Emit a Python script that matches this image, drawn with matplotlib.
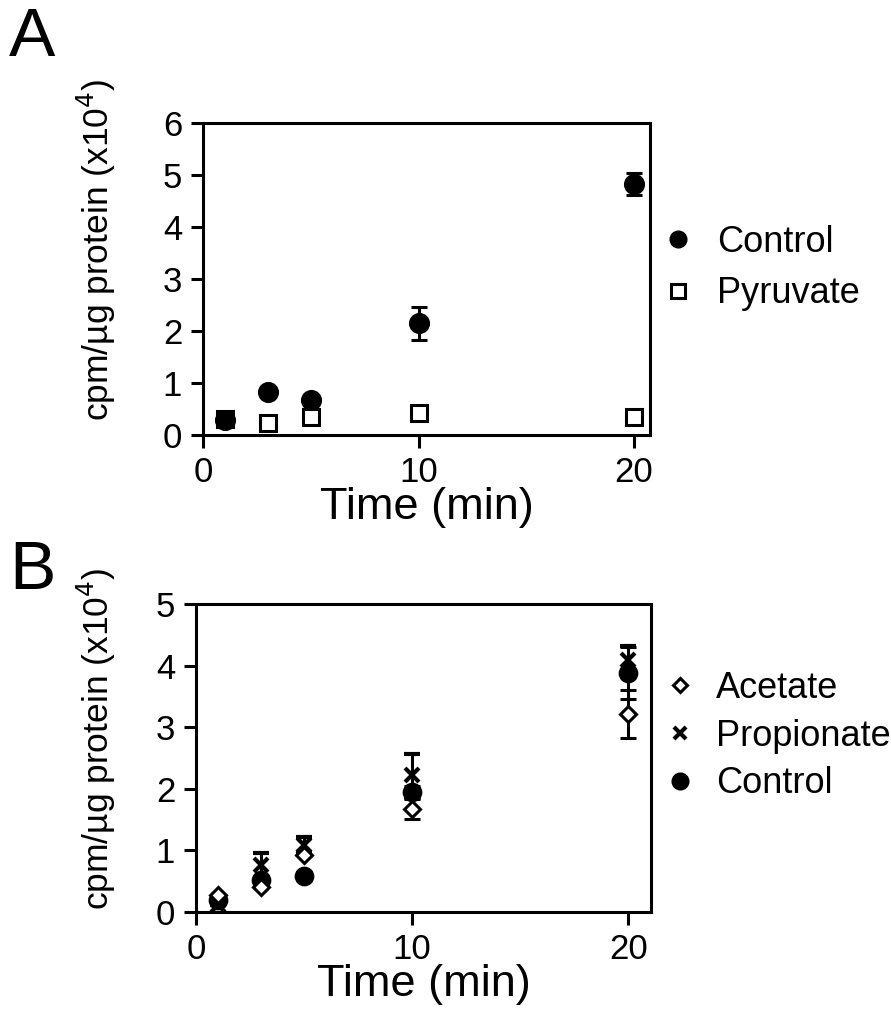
import numpy as np
import matplotlib
matplotlib.use('Agg')
import matplotlib.pyplot as plt
from matplotlib.lines import Line2D

plt.rcParams['font.family'] = ['Liberation Sans', 'DejaVu Sans']

# panel A
timeA = [1, 3, 5, 10, 20]
controlA = [0.29, 0.83, 0.67, 2.15, 4.83]
controlA_err = [0.0, 0.0, 0.0, 0.32, 0.22]
pyruvateA = [0.31, 0.23, 0.35, 0.42, 0.35]
pyruvateA_err = [0.0, 0.0, 0.0, 0.0, 0.0]

# panel B
timeB = [1, 3, 5, 10, 20]
controlB = [0.20, 0.52, 0.58, 1.95, 3.88]
controlB_err = [0.0, 0.0, 0.0, 0.10, 0.42]
propionateB = [0.11, 0.76, 1.09, 2.22, 4.09]
propionateB_err = [0.0, 0.20, 0.13, 0.35, 0.23]
acetateB = [0.28, 0.41, 0.93, 1.67, 3.21]
acetateB_err = [0.0, 0.0, 0.0, 0.16, 0.39]

LW = 2.2
TICK = 25
YLAB = 'cpm/\u00b5g protein (x10$^{4}$)'


def styleAxes(ax, xmax, ymax, yticks):
    ax.set_xlim(0, xmax)
    ax.set_ylim(0, ymax)
    ax.set_xticks([0, 10, 20])
    ax.set_yticks(yticks)
    for s in ax.spines.values():
        s.set_linewidth(LW)
    ax.tick_params(width=LW, length=9, labelsize=TICK, pad=6)
    ax.set_xlabel('Time (min)', fontsize=32.5, labelpad=-1)


def drawSeries(ax, x, y, err, mew=2.2, **kw):
    ax.errorbar(x, y, yerr=err, ls='none', color='black', elinewidth=LW,
                capsize=6, capthick=LW, mec='black', mew=mew, clip_on=False, **kw)


def main():
    fig = plt.figure(figsize=(8.91, 10.26), dpi=100)

    axA = fig.add_axes([0.2278, 0.576, 0.5017, 0.304])
    styleAxes(axA, 20.74, 6, range(7))
    drawSeries(axA, timeA, pyruvateA, pyruvateA_err, marker='s', ms=11, mfc='white')
    drawSeries(axA, timeA, controlA, controlA_err, marker='o', ms=13, mfc='black')
    handlesA = [Line2D([], [], ls='none', marker='o', ms=12, color='black'),
                Line2D([], [], ls='none', marker='s', ms=10, mfc='white', mec='black', mew=2.2)]
    axA.legend(handlesA, ['Control', 'Pyruvate'], loc='center left', bbox_to_anchor=(0.941, 0.535),
               frameon=False, fontsize=26, handletextpad=0.5, labelspacing=0.45, handlelength=1.2)
    fig.text(0.108, 0.756, YLAB, rotation=90, fontsize=25.5, ha='center', va='center')
    fig.text(0.01, 0.963, 'A', fontsize=50, ha='left', va='center')

    axB = fig.add_axes([0.22, 0.1111, 0.5107, 0.3002])
    styleAxes(axB, 21.05, 5, range(6))
    drawSeries(axB, timeB, controlB, controlB_err, marker='o', ms=12, mfc='black')
    drawSeries(axB, timeB, propionateB, propionateB_err, marker='x', ms=10, mew=3)
    drawSeries(axB, timeB, acetateB, acetateB_err, marker='D', ms=8, mfc='white')
    handlesB = [Line2D([], [], ls='none', marker='D', ms=7, mfc='white', mec='black', mew=2.2),
                Line2D([], [], ls='none', marker='x', ms=8, color='black', mew=3),
                Line2D([], [], ls='none', marker='o', ms=12, color='black')]
    axB.legend(handlesB, ['Acetate', 'Propionate', 'Control'], loc='center left',
               bbox_to_anchor=(0.945, 0.571), frameon=False, fontsize=26,
               handletextpad=0.4, labelspacing=0.35, handlelength=1.2)
    fig.text(0.108, 0.28, YLAB, rotation=90, fontsize=25.5, ha='center', va='center')
    fig.text(0.01, 0.443, 'B', fontsize=50, ha='left', va='center')

    fig.savefig('out.png', dpi=100)


if __name__ == "__main__":
    main()
